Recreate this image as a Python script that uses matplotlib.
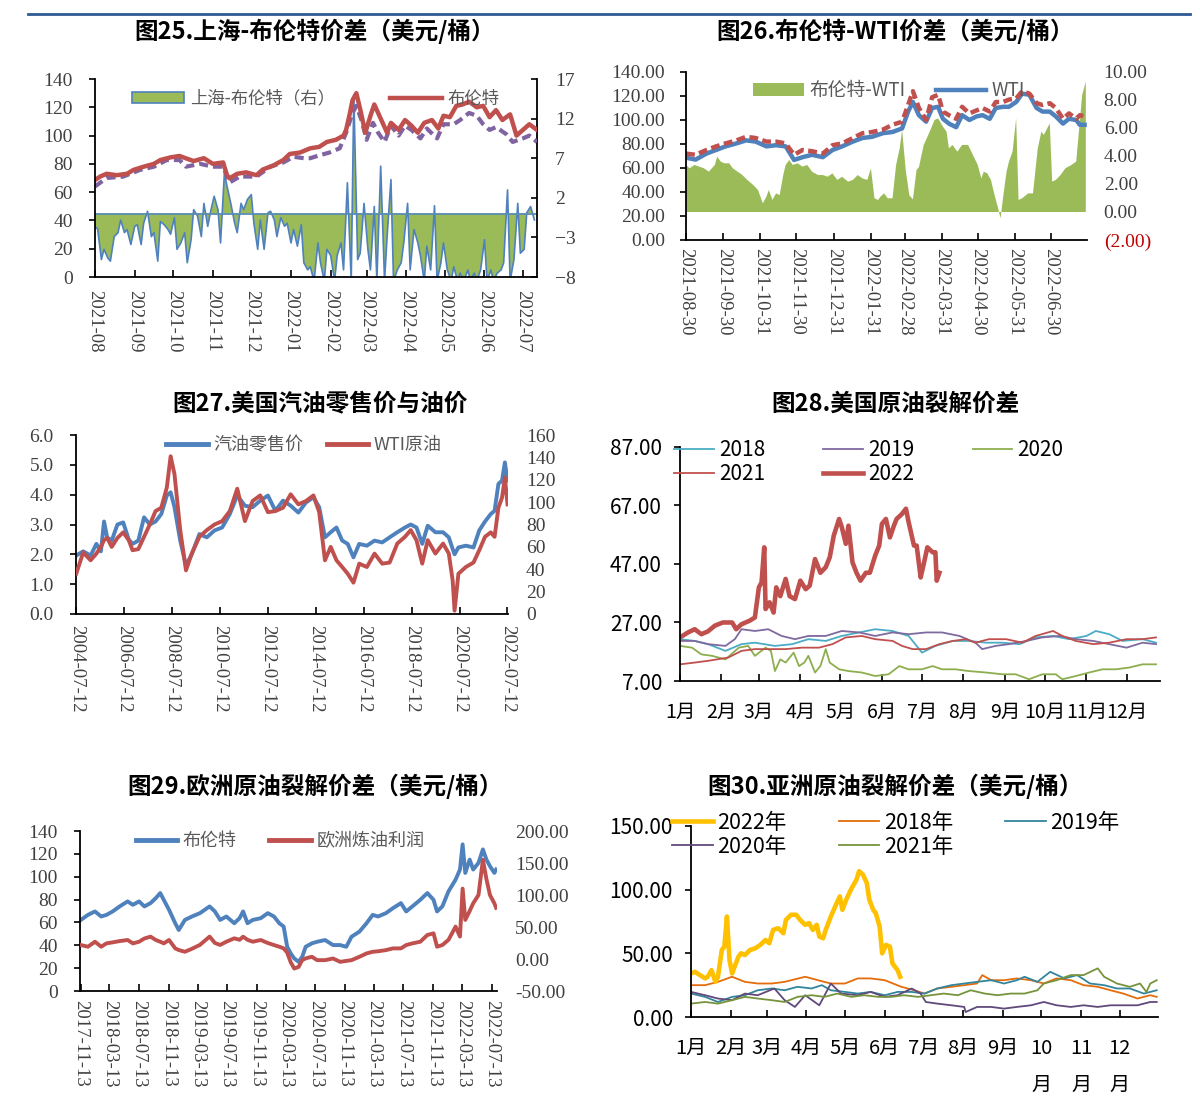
import matplotlib
matplotlib.use('Agg')
import matplotlib.pyplot as plt
import matplotlib.patches as mpatches
from matplotlib.lines import Line2D
import numpy as np
import pandas as pd

plt.rcParams['font.family'] = ['Liberation Serif', 'Noto Sans CJK SC']
CJK = 'Noto Sans CJK SC'

RED = '#C0504D'
BLUE = '#4F81BD'
GREEN = '#9BBB59'
PURPLE = '#8064A2'
TICK_GRAY = '#404040'
LEG_GRAY = '#595959'

# ---------------- 图25 data (days since 2021-08-01) ----------------
sh_spread = [-1.7, -1.9, -5.8, -4.5, -5.6, -6.0, -2.9, -2.4, -0.8, -2.4,
             -2.0, -3.9, -1.6, -1.4, -3.9, -1.2, 0.3, -2.9, -2.4, -6.0,
             -1.0, -1.4, -2.0, -2.6, -0.5, -4.5, -3.7, -2.4, -6.2, -3.3,
             0.5, -0.3, -2.9, 1.3, -1.6, 0.1, 2.2, 0.5, -3.7, 5.1,
             3.5, 1.3, -1.2, -2.4, 1.3, 0.5, 1.8, 2.4, -1.2, -4.5,
             -0.8, -4.5, 0.1, 0.3, -0.8, -2.9, -0.5, -1.6, -1.2, -3.7,
             -2.0, -4.1, -1.4, -6.2, -7.1, -6.7, -8.5, -3.7, -6.2, -8.5,
             -4.5, -5.3, -8.5, -5.3, -3.7, -7.1, 3.9, -8.5, 15.0, -5.8,
             -5.0, 1.3, -4.5, -7.1, 0.9, -8.5, 6.0, -8.5, -2.9, 4.3,
             -8.5, -7.1, -6.2, -3.7, 1.3, -7.1, -2.0, -3.7, -5.3, -8.5,
             -4.1, -7.1, 1.0, -8.5, -6.2, -3.7, -7.1, -8.5, -6.7, -8.5,
             -7.5, -8.5, -7.1, -8.5, -7.5, -8.5, -7.1, -3.3, -8.5, -7.1,
             -8.5, -7.5, -7.1, -6.2, 3.0, -8.5, -5.8, 1.3, -5.0, -4.5,
             0.1, 0.9, -0.8]
sh_days = pd.date_range('2021-08-01', '2022-07-10', periods=len(sh_spread))
sh_days = (sh_days - pd.Timestamp('2021-08-01')).days.values

brent25_days = [0, 4, 9, 17, 25, 30, 38, 46, 51, 59, 66, 71, 77, 85, 92, 100, 103, 105, 111, 118,
                126, 131, 139, 147, 152, 160, 168, 175, 181, 188, 194, 196, 199, 201, 204, 207, 211, 215, 218, 222,
                228, 231, 237, 242, 247, 252, 257, 263, 268, 272, 277, 282, 287, 292, 298, 303, 308, 313, 318, 324,
                329, 334, 339, 345]
brent25 = [68.6, 71, 73, 72, 73, 75.7, 78, 80, 82.7, 84.6, 85.6, 83.9, 82, 84, 80, 81, 72, 69.8, 73, 74,
           72, 76, 78.8, 82.7, 87, 88, 91, 92, 95.5, 97, 100, 104, 116, 125, 130, 118.6, 102, 114, 122, 114,
           102, 109, 104, 111, 107, 102, 109, 111, 105, 114, 113, 121, 122, 124, 120, 121, 113, 118, 111, 115,
           100, 104, 108, 104]
sc_days = [0, 9, 22, 35, 46, 56, 66, 71, 82, 92, 100, 105, 113, 126, 137, 147, 155, 163, 168, 175,
           183, 191, 196, 201, 204, 208, 212, 217, 221, 226, 231, 237, 242, 247, 254, 259, 267, 272, 280, 285,
           292, 298, 303, 308, 313, 321, 326, 334, 339, 345]
sc_crude = [64, 70, 71, 75.7, 78, 82.7, 82.7, 78, 80, 78, 78, 66.8, 71, 71, 78, 81, 85, 84, 84, 86,
            88, 91, 102, 116, 121, 111, 97, 109, 102, 95.5, 107, 100, 107, 104, 98, 105, 98, 108, 108, 111,
            116, 114, 108, 104, 106, 101, 95.5, 98, 100, 95.5]

# ---------------- 图26 data (days since 2021-08-30) ----------------
bw_days = [0, 3, 7, 11, 15, 19, 24, 26, 29, 32, 36, 39, 43, 47, 51, 56, 60, 64, 67, 69,
           72, 75, 78, 81, 83, 86, 89, 93, 97, 101, 105, 110, 114, 118, 122, 126, 130, 135, 139, 143,
           147, 151, 154, 157, 160, 162, 165, 168, 172, 175, 178, 180, 183, 186, 189, 192, 194, 198, 203, 207,
           210, 214, 217, 219, 222, 226, 230, 235, 239, 243, 246, 248, 251, 254, 257, 260, 262, 264, 267, 269,
           272, 275, 277, 280, 285, 289, 293, 296, 298, 303, 305, 308, 312, 316, 321, 325, 328, 330, 333]
bw_spread = [3.36, 3.12, 3.36, 3.24, 3.12, 2.88, 3.36, 3.95, 3.6, 3.48,
             3.48, 3.12, 2.88, 2.64, 2.29, 1.93, 1.57, 0.62, 1.1, 1.57,
             0.86, 1.33, 1.21, 2.64, 3.36, 3.71, 3.36, 3.48, 3.24, 3.36,
             2.88, 2.64, 2.64, 2.52, 2.76, 2.29, 2.52, 2.17, 2.29, 2.64,
             2.4, 2.29, 3.12, 0.98, 0.86, 1.1, 1.33, 0.98, 0.98, 3.36,
             4.55, 5.86, 3.0, 1.2, 0.9, 3.0, 3.2, 4.79, 5.74, 6.57,
             6.69, 6.1, 5.74, 4.55, 4.79, 4.31, 4.79, 4.79, 4.07, 3.36,
             2.4, 2.88, 2.76, 2.29, 1.21, 0.26, -0.45, 0.98, 2.88, 3.6,
             4.31, 6.69, 0.86, 0.98, 1.33, 1.33, 4.55, 5.74, 5.5, 6.33,
             2.17, 2.29, 2.64, 3.12, 3.36, 3.6, 6.45, 8.36, 9.31]
wti26_days = [0, 8, 17, 25, 33, 42, 50, 58, 67, 75, 83, 90, 97, 105, 114, 122, 130, 139, 147, 155,
              164, 172, 180, 185, 189, 194, 200, 205, 210, 214, 219, 225, 230, 236, 242, 247, 253, 258, 264, 269,
              275, 280, 286, 292, 297, 303, 308, 314, 319, 325, 328, 332]
wti26 = [68.6, 67, 72, 75, 78, 80.5, 83, 82, 78, 79, 78, 66.7, 69, 71, 69, 75, 78, 82, 85, 86,
         89, 90, 93, 107, 115, 104, 98.6, 110, 111, 101, 97, 94, 104, 100, 103, 104, 101, 110, 111, 111,
         115, 122, 121, 110, 107, 107, 103, 97, 101, 100, 96, 96]
brent26 = [72, 71, 75, 78, 80.5, 83, 86, 85, 82, 82, 80.5, 71, 75, 74, 72, 79, 80.5, 85, 89, 90,
           92, 96, 98.6, 112.5, 124, 110, 100, 119, 121, 107, 104, 101, 111, 105.5, 108, 110, 107, 115, 115, 117,
           118, 124, 122, 114, 112.5, 114, 110, 101, 105.5, 101, 104, 103]

# ---------------- 图27 data (decimal years) ----------------
gas_years = [2004.53, 2004.82, 2005.13, 2005.37, 2005.56, 2005.69, 2005.82, 2006.01, 2006.25, 2006.49,
             2006.72, 2006.88, 2007.12, 2007.36, 2007.60, 2007.84, 2008.08, 2008.31, 2008.47, 2008.63,
             2008.87, 2009.11, 2009.35, 2009.67, 2009.98, 2010.30, 2010.62, 2010.94, 2011.25, 2011.57,
             2011.89, 2012.21, 2012.53, 2012.84, 2013.16, 2013.48, 2013.80, 2014.12, 2014.43, 2014.67,
             2014.91, 2015.15, 2015.39, 2015.63, 2015.86, 2016.10, 2016.34, 2016.66, 2016.98, 2017.30,
             2017.61, 2017.93, 2018.25, 2018.49, 2018.73, 2018.97, 2019.20, 2019.52, 2019.84, 2020.08,
             2020.24, 2020.32, 2020.48, 2020.79, 2021.11, 2021.35, 2021.59, 2021.83, 2021.99, 2022.15,
             2022.30, 2022.42, 2022.53]
gasoline = [1.96, 2.1, 1.96, 2.35, 2.1, 3.1, 2.57, 2.46, 3.0, 3.07,
            2.5, 2.35, 2.46, 3.24, 3.0, 3.1, 3.35, 3.97, 4.08, 3.58,
            2.46, 1.62, 2.0, 2.68, 2.57, 2.8, 2.9, 3.35, 3.97, 3.63,
            3.58, 3.8, 3.97, 3.46, 3.8, 3.63, 3.4, 3.74, 3.91, 3.58,
            2.57, 2.74, 2.9, 2.46, 2.35, 1.9, 2.35, 2.29, 2.46, 2.4,
            2.57, 2.74, 2.9, 3.0, 2.9, 2.35, 2.96, 2.74, 2.74, 2.57,
            2.18, 2.0, 2.23, 2.29, 2.23, 2.8, 3.1, 3.35, 3.46, 4.36,
            4.47, 5.08, 4.47]
wti27 = [36, 55, 48, 54, 60, 66, 68, 60, 68, 73,
         66, 57, 58, 69, 80, 92, 95, 113, 141, 125,
         75, 39, 54, 69, 75, 80, 83, 92, 112, 83,
         101, 106, 91, 92, 95, 107, 98, 101, 106, 91,
         48, 60, 48, 42, 36, 28, 45, 42, 54, 45,
         46, 63, 69, 75, 66, 45, 66, 54, 63, 54,
         30, 3, 36, 42, 46, 57, 69, 73, 69, 95,
         104, 122, 98]

# ---------------- 图28 data (day of year) ----------------
us18_days = [0, 11, 21, 34, 46, 56, 71, 84, 96, 109, 121, 134, 146, 159, 171, 181, 191, 204, 216, 229,
             241, 254, 266, 279, 291, 304, 311, 321, 331, 346, 356]
us18 = [21.3, 20.7, 19.6, 17.3, 19.6, 20.1, 19, 19.6, 21.3, 20.7, 22.4, 23.6, 24.7, 24.1, 22.4, 16.7, 19, 20.7,
        20.7, 20.1, 20.1, 19.6, 21.9, 22.4, 21.3, 22.4, 24.1, 23, 20.7, 21.3, 20.1]
us19_days = [0, 11, 21, 34, 41, 46, 56, 66, 76, 86, 96, 109, 121, 134, 146, 159, 171, 184, 196, 209,
             221, 226, 236, 246, 259, 271, 284, 296, 309, 321, 334, 346, 356]
us19 = [20.7, 20.7, 19.6, 19, 21.3, 24.7, 24.1, 24.7, 22.4, 21.3, 22.4, 22.4, 24.1, 23.6, 22.4, 23.6, 23,
        23.6, 23.6, 22.4, 20.1, 17.9, 19, 19.6, 20.7, 21.9, 22.4, 21.3, 20.7, 19.6, 18.4, 20.1, 19.6]
us20_days = [0, 9, 16, 24, 34, 44, 51, 56, 64, 68, 71, 75, 79, 85, 89, 93, 96, 101, 105, 109,
             112, 119, 126, 136, 146, 156, 164, 171, 181, 189, 196, 206, 216, 229, 241, 251, 261, 271, 281, 286,
             296, 306, 316, 326, 336, 346, 356]
us20 = [19, 18.4, 16.1, 15.6, 14.4, 18.4, 19, 15.6, 18.4, 17.3, 10.4, 14.4, 13.3, 16.7, 12.1, 13.3, 15.6, 9.9,
        12.1, 17.9, 13.3, 11, 10.4, 9.9, 8.7, 9.3, 12.1, 11, 11, 12.1, 11, 11, 10.4, 9.9, 9.3, 9.3, 7.6,
        9.3, 9.3, 7.6, 8.7, 9.9, 11, 11, 11.6, 12.7, 12.7]
us21_days = [0, 11, 21, 36, 46, 56, 66, 79, 91, 104, 114, 124, 136, 146, 159, 166, 174, 184, 194, 204,
             214, 221, 231, 244, 256, 266, 279, 286, 296, 309, 321, 334, 346, 356]
us21 = [12.7, 13.3, 13.9, 15, 17.3, 17.9, 17.9, 17.9, 18.4, 18.4, 19.6, 21.9, 22.4, 21.3, 20.7, 19, 17.9,
        17.9, 19.6, 20.7, 21.3, 20.1, 21.3, 21.3, 20.1, 22.4, 24.1, 22.4, 20.7, 19.6, 20.1, 21.3, 21.3, 21.9]
us22_days = [0, 6, 11, 16, 21, 26, 32, 39, 42, 46, 52, 56, 59, 61, 63, 64, 67, 70, 72, 75,
             79, 82, 86, 90, 94, 97, 101, 105, 109, 112, 115, 119, 121, 124, 126, 129, 132, 135, 139, 142,
             146, 149, 151, 154, 157, 160, 162, 166, 169, 171, 175, 177, 180, 182, 185, 189, 191, 192, 194]
us22 = [21.9, 23.6, 24.7, 23, 24, 25.9, 27, 27, 24.7, 26.4, 27.6, 28.7, 39, 40.7, 52.7, 31.6, 33.9, 30.4, 39, 36,
        41.9, 36, 35, 41.3, 38.4, 39.6, 48.7, 44, 45.9, 49.3, 56.7, 62.4, 59.6, 53.9, 60.1, 47.6, 44, 41.3, 44, 44,
        49.9, 53.3, 60.7, 62.4, 56.1, 60.1, 62.4, 64.1, 65.9, 61.3, 53.3, 53.3, 42.4, 46.4, 52.7, 51, 51, 41.3, 44]

# ---------------- 图29 data (decimal years) ----------------
eu_years = [2017.87, 2017.95, 2018.03, 2018.10, 2018.16, 2018.23, 2018.31, 2018.40, 2018.46, 2018.53,
            2018.59, 2018.66, 2018.72, 2018.77, 2018.81, 2018.87, 2018.94, 2018.98, 2019.05, 2019.13,
            2019.22, 2019.33, 2019.39, 2019.45, 2019.52, 2019.61, 2019.67, 2019.71, 2019.76, 2019.82,
            2019.91, 2019.99, 2020.06, 2020.12, 2020.17, 2020.21, 2020.25, 2020.29, 2020.34, 2020.38,
            2020.42, 2020.49, 2020.55, 2020.64, 2020.73, 2020.81, 2020.88, 2020.94, 2021.03, 2021.11,
            2021.18, 2021.24, 2021.33, 2021.41, 2021.50, 2021.56, 2021.63, 2021.72, 2021.80, 2021.87,
            2021.91, 2021.97, 2022.04, 2022.12, 2022.17, 2022.20, 2022.23, 2022.28, 2022.32, 2022.38,
            2022.43, 2022.47, 2022.51, 2022.56, 2022.58]
brent29 = [62.2, 66.6, 69.6, 65.2, 66.6, 69.6, 74, 78.4, 75.4, 78.4,
           74, 76.9, 81.3, 85.7, 79.8, 71, 59.3, 53.4, 62.2, 65.2,
           68.1, 74, 69.6, 62.2, 65.2, 59.3, 63.7, 69.6, 59.3, 62.2,
           63.7, 68.1, 65.2, 59.3, 56.4, 38.7, 32.9, 28.5, 25.5, 29.9,
           38.7, 41.7, 43.1, 44.6, 40.2, 40.2, 38.7, 47.5, 52, 59.3,
           66.6, 65.2, 68.1, 72.5, 76.9, 69.6, 74, 79.8, 85.7, 79.8,
           69.6, 74, 87.2, 97.4, 106.3, 128.3, 103.3, 115, 106.3, 112.1,
           123.9, 115, 109.2, 103.3, 106.3]
eu_margin = [21.8, 19.2, 27, 19.2, 24.4, 26, 28, 29.7, 24.4, 27,
             32, 34.9, 29.7, 27, 24.4, 29.7, 16.6, 14, 11.3, 16,
             22, 35, 25, 22, 27, 32.3, 30, 34.9, 30, 27,
             29.7, 25, 21.8, 19.2, 16.6, 10, -5, -14.9, -12.3, -1.8,
             1, 3.5, -1.8, -1.8, 0.8, -4.4, -3, -1.8, 3.5, 8.7,
             11.3, 12, 13.9, 16.6, 16.6, 21.8, 24.4, 27, 37.5, 40.1,
             19.2, 21.8, 30, 50.6, 35, 110, 61, 75, 87, 100,
             155, 125, 100, 87, 80]

# ---------------- 图30 data (day of year) ----------------
as22_days = [0, 3, 7, 11, 13, 16, 19, 21, 24, 26, 28, 30, 32, 34, 37, 39, 42, 46, 50, 54,
             58, 61, 64, 68, 72, 74, 78, 82, 85, 89, 92, 95, 98, 100, 103, 105, 109, 113, 116, 118,
             121, 124, 126, 129, 131, 134, 137, 139, 142, 144, 147, 149, 152, 155, 157, 161, 163]
as22 = [34.2, 35.5, 32.9, 30.3, 31.6, 36.8, 27.6, 31.6, 52.6, 55.3, 78.9, 44.7, 34.2, 39.5, 47.4, 50, 48.7,
        52.6, 53.9, 56.6, 60.5, 57.9, 68.4, 69.7, 65.8, 76.3, 80.3, 80.3, 76.3, 72.4, 73.7, 68.4, 72.4, 63.2,
        61.8, 68.4, 78.9, 88.2, 94.7, 84.2, 92.1, 98.7, 102.6, 107.9, 114.5, 111.8, 105.3, 92.1, 84.2, 81.6,
        71.1, 50, 56.6, 55.3, 42.1, 36.8, 31.6]
as18_days = [0, 11, 21, 32, 42, 52, 63, 73, 89, 99, 109, 120, 130, 140, 151, 164, 174, 182, 192, 203,
             213, 223, 227, 234, 244, 254, 265, 275, 285, 296, 306, 317, 327, 337, 348, 358, 363]
as18 = [25, 25, 27.6, 31.6, 27.6, 26.3, 26.3, 27.6, 31.6, 28.9, 26.3, 26.3, 30.3, 30.3, 28.9, 23.7, 21, 18.4,
        22.4, 23.7, 25, 26.3, 32.9, 28.9, 28.9, 30.3, 28.9, 26.3, 30.3, 28.9, 25, 23.7, 21, 18.4, 14.5, 17.1, 15.8]
as19_days = [0, 11, 21, 32, 42, 52, 63, 73, 83, 94, 102, 109, 120, 130, 140, 151, 161, 172, 182, 192,
             203, 213, 223, 234, 244, 254, 260, 270, 280, 291, 301, 311, 322, 332, 342, 353, 363]
as19 = [18.4, 15.8, 11.8, 15.8, 17.1, 21, 22.4, 21, 23.7, 22.4, 25, 21, 19.7, 18.4, 19.7, 17.1, 19.7, 19.7,
        18.4, 22.4, 25, 26.3, 27.6, 28.9, 26.3, 28.9, 31.6, 27.6, 35.5, 30.3, 32.9, 26.3, 25, 22.4, 22.4, 18.4, 21]
as20_days = [0, 11, 21, 32, 42, 52, 65, 73, 81, 89, 100, 109, 117, 130, 140, 151, 161, 172, 179, 183,
             192, 203, 213, 214, 223, 234, 244, 254, 265, 275, 285, 296, 306, 317, 327, 337, 348, 358, 363]
as20 = [19.7, 17.1, 14.5, 13.2, 18.4, 17.1, 22.4, 13.2, 7.9, 17.1, 9.2, 26.3, 18.4, 17.1, 19.7, 15.8, 17.1,
        22.4, 18.4, 11.8, 10.5, 9.2, 7.9, 3.9, 7.9, 7.9, 6.6, 7.9, 9.2, 11.8, 9.2, 7.9, 9.2, 7.9, 9.2, 9.2,
        9.2, 11.8, 11.8]
as21_days = [0, 11, 21, 32, 42, 52, 63, 73, 83, 94, 104, 114, 125, 135, 146, 156, 166, 177, 187, 197,
             208, 218, 229, 239, 249, 260, 270, 275, 285, 296, 306, 317, 322, 332, 342, 350, 355, 358, 363]
as21 = [10.5, 11.8, 10.5, 13.2, 15.8, 14.5, 13.2, 11.8, 15.8, 17.1, 15.8, 18.4, 15.8, 17.1, 15.8, 15.8, 17.1,
        15.8, 17.1, 18.4, 17.1, 21, 18.4, 17.1, 18.4, 18.4, 21, 26.3, 28.9, 32.9, 32.9, 38.2, 31.6, 26.3, 23.7,
        26.3, 19.7, 26.3, 28.9]

month_labels = [f'{m}月' for m in range(1, 13)]
month_labels30 = [f'{m}月' for m in range(1, 10)] + ['10\n月', '11\n月', '12\n月']


def dec_year(s):
    t = pd.Timestamp(s)
    n = 366 if t.is_leap_year else 365
    return t.year + (t.dayofyear - 1) / n


def px_axes(fig, x0, y0, x1, y1):
    W, H = 1200, 1110
    return fig.add_axes([x0 / W, 1 - y1 / H, (x1 - x0) / W, (y1 - y0) / H])


def base_style(ax, ypad=12, xpad=8, ylab=14, xlab=13.5, xdir='in'):
    ax.spines['top'].set_visible(False)
    ax.spines['right'].set_visible(False)
    for s in ('left', 'bottom'):
        ax.spines[s].set_linewidth(1.3)
        ax.spines[s].set_color('black')
    ax.tick_params(axis='y', direction='out', length=4, width=1.2, pad=ypad,
                   labelsize=ylab, labelcolor=TICK_GRAY)
    ax.tick_params(axis='x', direction=xdir, length=5, width=1.2, pad=xpad,
                   labelsize=xlab, labelcolor=TICK_GRAY)


def twin_style(ax2, pad=13, size=14, spine=False, length=0):
    for s in ('top', 'left', 'bottom'):
        ax2.spines[s].set_visible(False)
    ax2.spines['right'].set_visible(spine)
    ax2.spines['right'].set_linewidth(1.3)
    ax2.tick_params(axis='y', direction='in', length=length, width=1.2, pad=pad,
                    labelsize=size, labelcolor=TICK_GRAY)


fig = plt.figure(figsize=(12, 11.1), dpi=100)

# top separator
fig.add_artist(Line2D([28 / 1200, 1190 / 1200], [1 - 14 / 1110, 1 - 14 / 1110],
                      color='#2E5A94', lw=2))

titles = [('图25.上海-布伦特价差（美元/桶）', 315, 31),
          ('图26.布伦特-WTI价差（美元/桶）', 895, 31),
          ('图27.美国汽油零售价与油价', 320, 404),
          ('图28.美国原油裂解价差', 895, 404),
          ('图29.欧洲原油裂解价差（美元/桶）', 315, 786),
          ('图30.亚洲原油裂解价差（美元/桶）', 895, 786)]
for txt, x, y in titles:
    fig.text(x / 1200, 1 - y / 1110, txt, ha='center', va='center',
             fontsize=17, fontweight='bold', family=CJK, color='black')

# ================= 图25 =================
ax = px_axes(fig, 95, 79, 537, 277)
ax2 = ax.twinx()
base_style(ax, ypad=12, xpad=9)
twin_style(ax2, pad=13, spine=True, length=4)
ax2.fill_between(sh_days, 0, sh_spread, facecolor=GREEN, lw=0)
ax2.plot(sh_days, sh_spread, color=BLUE, lw=1.2)
ax2.axhline(0, color='#5A8DB5', lw=1.3)
ax2.set_ylim(-8, 17)
ax2.set_yticks(range(-8, 18, 5))
ax.plot(sc_days, sc_crude, color=PURPLE, lw=3.0, dashes=(2.2, 1.2))
ax.plot(brent25_days, brent25, color=RED, lw=3.2)
ax.set_zorder(ax2.get_zorder() + 1)
ax.patch.set_visible(False)
ax.set_ylim(0, 140)
ax.set_yticks(range(0, 141, 20))
m25 = pd.date_range('2021-08-01', '2022-07-01', freq='MS')
ax.set_xticks((m25 - pd.Timestamp('2021-08-01')).days, m25.strftime('%Y-%m'),
              rotation=270, ha='center', va='top')
ax.set_xlim(0, 345)
h25 = [mpatches.Patch(facecolor=GREEN, edgecolor=BLUE, lw=1.2, label='上海-布伦特（右）'),
       Line2D([], [], color=RED, lw=3.2, label='布伦特')]
ax.legend(handles=h25, loc='center', bbox_to_anchor=(0.5, 0.9), ncol=2, frameon=False,
          prop={'family': CJK, 'size': 12.5}, labelcolor=LEG_GRAY, handlelength=3.0,
          handleheight=0.6, handletextpad=0.3, columnspacing=3.2)

# ================= 图26 =================
ax = px_axes(fig, 686, 72, 1087, 240)
ax2 = ax.twinx()
base_style(ax, ypad=11, xpad=6)
twin_style(ax2, pad=12)
ax2.fill_between(bw_days, 0, bw_spread, facecolor=GREEN, lw=0)
ax2.set_ylim(-2, 10)
r_ticks = list(range(-2, 11, 2))
ax2.set_yticks(r_ticks, [f'({abs(v):.2f})' if v < 0 else f'{v:.2f}' for v in r_ticks])
for lbl, v in zip(ax2.get_yticklabels(), r_ticks):
    if v < 0:
        lbl.set_color('#C00000')
ax.plot(wti26_days, wti26, color=BLUE, lw=3.2)
ax.plot(wti26_days, brent26, color=RED, lw=3.2, dashes=(2.0, 1.0))
ax.set_zorder(ax2.get_zorder() + 1)
ax.patch.set_visible(False)
ax.set_ylim(0, 140)
ax.set_yticks(range(0, 141, 20), [f'{v:.2f}' for v in range(0, 141, 20)])
m26 = ['2021-08-30', '2021-09-30', '2021-10-31', '2021-11-30', '2021-12-31', '2022-01-31',
       '2022-02-28', '2022-03-31', '2022-04-30', '2022-05-31', '2022-06-30']
ax.set_xticks([(pd.Timestamp(s) - pd.Timestamp('2021-08-30')).days for s in m26], m26,
              rotation=270, ha='center', va='top')
ax.set_xlim(0, 334)
h26 = [mpatches.Patch(facecolor=GREEN, lw=0, label='布伦特-WTI'),
       Line2D([], [], color=BLUE, lw=3.2, label='WTI')]
ax.legend(handles=h26, loc='center', bbox_to_anchor=(0.507, 0.887), ncol=2, frameon=False,
          prop={'family': CJK, 'size': 13.5}, labelcolor=LEG_GRAY, handlelength=2.7,
          handleheight=0.7, handletextpad=0.3, columnspacing=1.6)

# ================= 图27 =================
ax = px_axes(fig, 76, 435, 508, 614)
ax2 = ax.twinx()
base_style(ax, ypad=12, xpad=8)
twin_style(ax2, pad=13)
ax.plot(gas_years, gasoline, color=BLUE, lw=2.8)
ax2.plot(gas_years, wti27, color=RED, lw=2.8)
ax.set_ylim(0, 6)
ax.set_yticks(range(0, 7), [f'{v:.1f}' for v in range(0, 7)])
ax2.set_ylim(0, 160)
ax2.set_yticks(range(0, 161, 20))
t27 = [f'{y}-07-12' for y in range(2004, 2023, 2)]
ax.set_xticks([dec_year(s) for s in t27], t27, rotation=270, ha='center', va='top')
ax.set_xlim(2004.52, 2022.55)
h27 = [Line2D([], [], color=BLUE, lw=3.5, label='汽油零售价'),
       Line2D([], [], color=RED, lw=3.5, label='WTI原油')]
ax2.legend(handles=h27, loc='center', bbox_to_anchor=(0.528, 0.944), ncol=2, frameon=False,
           prop={'family': CJK, 'size': 13}, labelcolor=LEG_GRAY, handlelength=2.3,
           handletextpad=0.3, columnspacing=1.3)

# ================= 图28 =================
ax = px_axes(fig, 680, 447, 1160, 681)
base_style(ax, ypad=9, xpad=15, ylab=15, xlab=14)
ax.tick_params(labelcolor='black')
ax.plot(us18_days, us18, color='#4BACC6', lw=1.3, label='2018')
ax.plot(us19_days, us19, color='#7F6A9F', lw=1.3, label='2019')
ax.plot(us20_days, us20, color='#8DAE4E', lw=1.3, label='2020')
ax.plot(us21_days, us21, color='#C0504D', lw=1.3, label='2021')
ax.plot(us22_days, us22, color='#C0504D', lw=3.3, label='2022')
ax.set_ylim(7, 87)
ax.set_yticks(range(7, 88, 20), [f'{v:.2f}' for v in range(7, 88, 20)])
month_days = (pd.date_range('2022-01-01', periods=12, freq='MS').dayofyear - 1).values
ax.set_xticks(month_days, month_labels)
ax.set_xlim(0, 359)
for lbl in ax.get_xticklabels() + ax.get_yticklabels():
    lbl.set_fontfamily(CJK)
hs, ls = ax.get_legend_handles_labels()
order = [0, 3, 1, 4, 2]
ax.legend([hs[i] for i in order], [ls[i] for i in order], loc='upper left',
          bbox_to_anchor=(-0.0125, 1.035), ncol=3, frameon=False, borderpad=0, borderaxespad=0,
          prop={'family': CJK, 'size': 15}, handlelength=1.9, handletextpad=0.25,
          columnspacing=2.8, labelspacing=0.1)

# ================= 图29 =================
ax = px_axes(fig, 80, 831, 497, 991)
ax2 = ax.twinx()
base_style(ax, ypad=12, xpad=6.5)
twin_style(ax2, pad=13)
ax.plot(eu_years, brent29, color=BLUE, lw=2.8)
ax2.plot(eu_years, eu_margin, color=RED, lw=2.8)
ax.set_ylim(0, 140)
ax.set_yticks(range(0, 141, 20))
ax2.set_ylim(-50, 200)
ax2.set_yticks(range(-50, 201, 50), [f'{v:.2f}' for v in range(-50, 201, 50)])
t29 = pd.date_range('2017-11-13', periods=15, freq=pd.DateOffset(months=4)).strftime('%Y-%m-%d')
ax.set_xticks([dec_year(s) for s in t29], list(t29), rotation=270, ha='center', va='top')
ax.set_xlim(2017.86, 2022.59)
h29 = [Line2D([], [], color=BLUE, lw=3.5, label='布伦特'),
       Line2D([], [], color=RED, lw=3.5, label='欧洲炼油利润')]
ax2.legend(handles=h29, loc='center', bbox_to_anchor=(0.48, 0.9375), ncol=2, frameon=False,
           prop={'family': CJK, 'size': 13}, labelcolor=LEG_GRAY, handlelength=2.3,
           handletextpad=0.3, columnspacing=1.8)

# ================= 图30 =================
ax = px_axes(fig, 691, 826, 1158, 1017)
base_style(ax, ypad=9, xpad=15, ylab=15, xlab=14.5)
ax.tick_params(labelcolor='black')
ax.plot(as18_days, as18, color='#E46C0A', lw=1.3, label='2018年')
ax.plot(as19_days, as19, color='#31859C', lw=1.3, label='2019年')
ax.plot(as20_days, as20, color='#604A7B', lw=1.3, label='2020年')
ax.plot(as21_days, as21, color='#77933C', lw=1.3, label='2021年')
ax.plot(as22_days, as22, color='#FFC000', lw=3.3, label='2022年')
ax.set_ylim(0, 150)
ax.set_yticks(range(0, 151, 50), [f'{v:.2f}' for v in range(0, 151, 50)])
ax.set_xticks(month_days, month_labels30)
ax.set_xlim(0, 364)
for lbl in ax.get_xticklabels():
    lbl.set_fontfamily(CJK)
    lbl.set_linespacing(2.0)
for lbl in ax.get_yticklabels():
    lbl.set_fontfamily(CJK)
hs, ls = ax.get_legend_handles_labels()
order = [4, 2, 0, 3, 1]
ax.legend([hs[i] for i in order], [ls[i] for i in order], loc='upper left',
          bbox_to_anchor=(-0.04, 1.075), ncol=3, frameon=False, borderpad=0, borderaxespad=0,
          prop={'family': CJK, 'size': 15.5}, handlelength=1.9, handletextpad=0.2,
          columnspacing=2.4, labelspacing=0.1)

fig.savefig('out.png', dpi=100)
